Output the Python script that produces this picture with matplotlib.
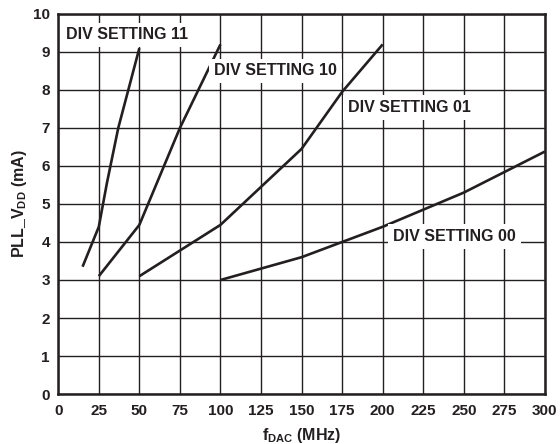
import matplotlib.pyplot as plt

plt.rcParams['font.family'] = ['Liberation Sans', 'DejaVu Sans']
plt.rcParams['font.weight'] = 'bold'
plt.rcParams['mathtext.fontset'] = 'custom'
plt.rcParams['mathtext.rm'] = 'Liberation Sans:bold'
plt.rcParams['mathtext.it'] = 'Liberation Sans:bold'
plt.rcParams['mathtext.bf'] = 'Liberation Sans:bold'

# PLL supply current vs DAC clock for each divider setting
div11_f = [15, 25, 30, 37, 50]
div11_i = [3.35, 4.4, 5.55, 7.0, 9.1]

div10_f = [25, 50, 75, 100]
div10_i = [3.1, 4.45, 7.0, 9.2]

div01_f = [50, 100, 150, 175, 200]
div01_i = [3.1, 4.45, 6.45, 7.95, 9.2]

div00_f = [100, 150, 200, 250, 300]
div00_i = [3.0, 3.6, 4.4, 5.3, 6.38]

labels = ['DIV SETTING 11', 'DIV SETTING 10', 'DIV SETTING 01', 'DIV SETTING 00']
label_pos = [(4.7, 9.45), (96.1, 8.5), (178.7, 7.54), (206.4, 4.14)]

ink = '#231f20'

fig = plt.figure(figsize=(5.6, 4.44), dpi=100)
ax = fig.add_axes([0.104, 0.1126, 0.869, 0.8559])

for f, i in [(div11_f, div11_i), (div10_f, div10_i), (div01_f, div01_i), (div00_f, div00_i)]:
    ax.plot(f, i, color=ink, lw=1.9, solid_capstyle='butt', zorder=3)

for text, (x, y) in zip(labels, label_pos):
    ax.text(x, y, text, fontsize=11.5, fontweight='bold', color=ink,
            ha='left', va='center', zorder=4,
            bbox=dict(boxstyle='square,pad=0.3', fc='white', ec='none'))

ax.set_xlim(0, 300)
ax.set_ylim(0, 10)
ax.set_xticks(range(0, 301, 25))
ax.set_yticks(range(0, 11))
ax.grid(True, color=ink, lw=1.0)
ax.set_axisbelow(True)
ax.tick_params(length=0, labelsize=11, colors=ink)
ax.tick_params(axis='x', pad=7)
ax.tick_params(axis='y', pad=6)
for lab in ax.get_xticklabels() + ax.get_yticklabels():
    lab.set_fontweight('bold')
for side in ax.spines.values():
    side.set_linewidth(1.8)
    side.set_color(ink)

ax.set_xlabel('f$_{\\mathrm{DAC}}$ (MHz)', fontsize=11.5, fontweight='bold', color=ink, labelpad=6)
ax.set_ylabel('PLL_V$_{\\mathrm{DD}}$ (mA)', fontsize=11.5, fontweight='bold', color=ink, labelpad=3)

fig.savefig('out.png', dpi=100)
